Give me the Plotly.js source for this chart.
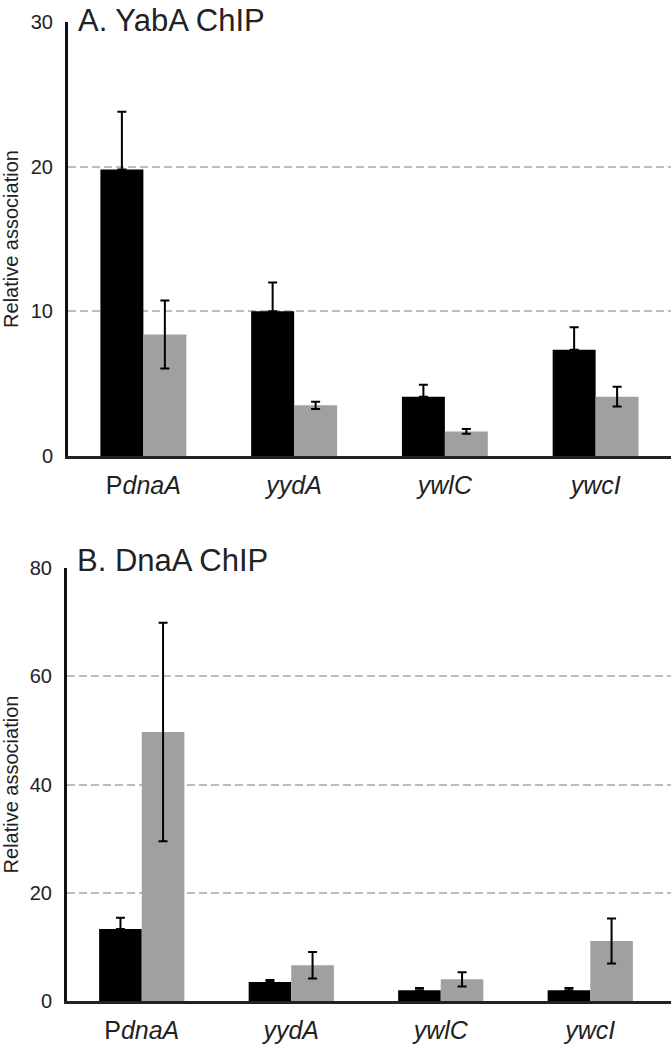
<!DOCTYPE html>
<html>
<head>
<meta charset="utf-8">
<script src="https://cdn.plot.ly/plotly-3.0.1.min.js"></script>
<style>
  html, body { margin: 0; padding: 0; background: #fff; }
  #chart { width: 671px; height: 1050px; }
</style>
</head>
<body>
<div id="chart"></div>
<script>
// ---- data ----
const categories = ['PdnaA', 'yydA', 'ywlC', 'ywcI'];
const tickLabels = ['P<i>dnaA</i>', '<i>yydA</i>', '<i>ywlC</i>', '<i>ywcI</i>'];

// Panel A: YabA ChIP
const yabaBlack = [19.8, 10.0, 4.1, 7.35];
const yabaBlackErr = [4.0, 2.0, 0.83, 1.55];
const yabaGray = [8.4, 3.5, 1.7, 4.1];
const yabaGrayErr = [2.35, 0.25, 0.17, 0.68];

// Panel B: DnaA ChIP
const dnaaBlack = [13.3, 3.5, 2.0, 2.0];
const dnaaBlackErr = [2.1, 0.4, 0.4, 0.4];
const dnaaGray = [49.7, 6.6, 4.0, 11.1];
const dnaaGrayErr = [20.2, 2.45, 1.3, 4.15];

const titleA = 'A. YabA ChIP';
const titleB = 'B. DnaA ChIP';
const yTitle = 'Relative association';

// ---- styles ----
const FONT = 'Liberation Sans, Arial, Helvetica, sans-serif';
const BLACK = '#000000';
const GRAY = '#a0a0a0';

function zeros(n) { return new Array(n).fill(0); }

function barTrace(y, err, color, twoSided, xa, ya) {
  return {
    type: 'bar', x: categories, y: y, xaxis: xa, yaxis: ya,
    marker: { color: color, line: { width: 0 } },
    error_y: {
      type: 'data', symmetric: false, array: err,
      arrayminus: twoSided ? err : zeros(err.length),
      color: '#000', thickness: 2, width: 4.5
    },
    showlegend: false, hoverinfo: 'x+y'
  };
}

const data = [
  barTrace(yabaBlack, yabaBlackErr, BLACK, false, 'x', 'y'),
  barTrace(yabaGray, yabaGrayErr, GRAY, true, 'x', 'y'),
  barTrace(dnaaBlack, dnaaBlackErr, BLACK, false, 'x2', 'y2'),
  barTrace(dnaaGray, dnaaGrayErr, GRAY, true, 'x2', 'y2')
];

function xAxis(domain, range, anchor) {
  return {
    domain: domain, range: range, anchor: anchor, type: 'category',
    tickvals: categories, ticktext: tickLabels,
    showgrid: false, zeroline: false,
    showline: true, linecolor: '#222', linewidth: 3,
    ticks: '', ticklabelstandoff: 5,
    tickfont: { family: FONT, size: 25, color: '#222' },
    fixedrange: true
  };
}
function yAxis(domain, range, dtick, anchor) {
  return {
    domain: domain, range: range, anchor: anchor, dtick: dtick, tick0: 0,
    showgrid: true, gridcolor: '#bdbdbd', gridwidth: 2, griddash: '8px,4px',
    zeroline: false,
    showline: true, linecolor: '#111', linewidth: 3,
    ticks: '', ticklabelstandoff: 8,
    tickfont: { family: FONT, size: 20, color: '#222' },
    title: { text: yTitle, font: { family: FONT, size: 20, color: '#222' }, standoff: 16 },
    fixedrange: true
  };
}

const layout = {
  width: 671, height: 1050,
  margin: { l: 0, r: 0, t: 0, b: 0 },
  paper_bgcolor: '#fff', plot_bgcolor: '#fff',
  barmode: 'group', bargap: 0.43, bargroupgap: 0,
  xaxis: xAxis([68 / 671, 1], [-0.5, 3.5], 'y'),
  yaxis: yAxis([1 - 456 / 1050, 1 - 22 / 1050], [0, 30], 10, 'x'),
  xaxis2: xAxis([67 / 671, 1], [-0.5, 3.54], 'y2'),
  yaxis2: yAxis([1 - 1001 / 1050, 1 - 568 / 1050], [0, 80], 20, 'x2'),
  annotations: [
    { text: titleA, xref: 'paper', yref: 'paper', x: 76 / 671, y: 1 - 1 / 1050,
      xanchor: 'left', yanchor: 'top', showarrow: false,
      font: { family: FONT, size: 31, color: '#222' } },
    { text: titleB, xref: 'paper', yref: 'paper', x: 75 / 671, y: 1 - 560 / 1050,
      xanchor: 'left', yanchor: 'middle', showarrow: false,
      font: { family: FONT, size: 31, color: '#222' } }
  ]
};

Plotly.newPlot('chart', data, layout, { displayModeBar: false, staticPlot: true });
</script>
</body>
</html>
